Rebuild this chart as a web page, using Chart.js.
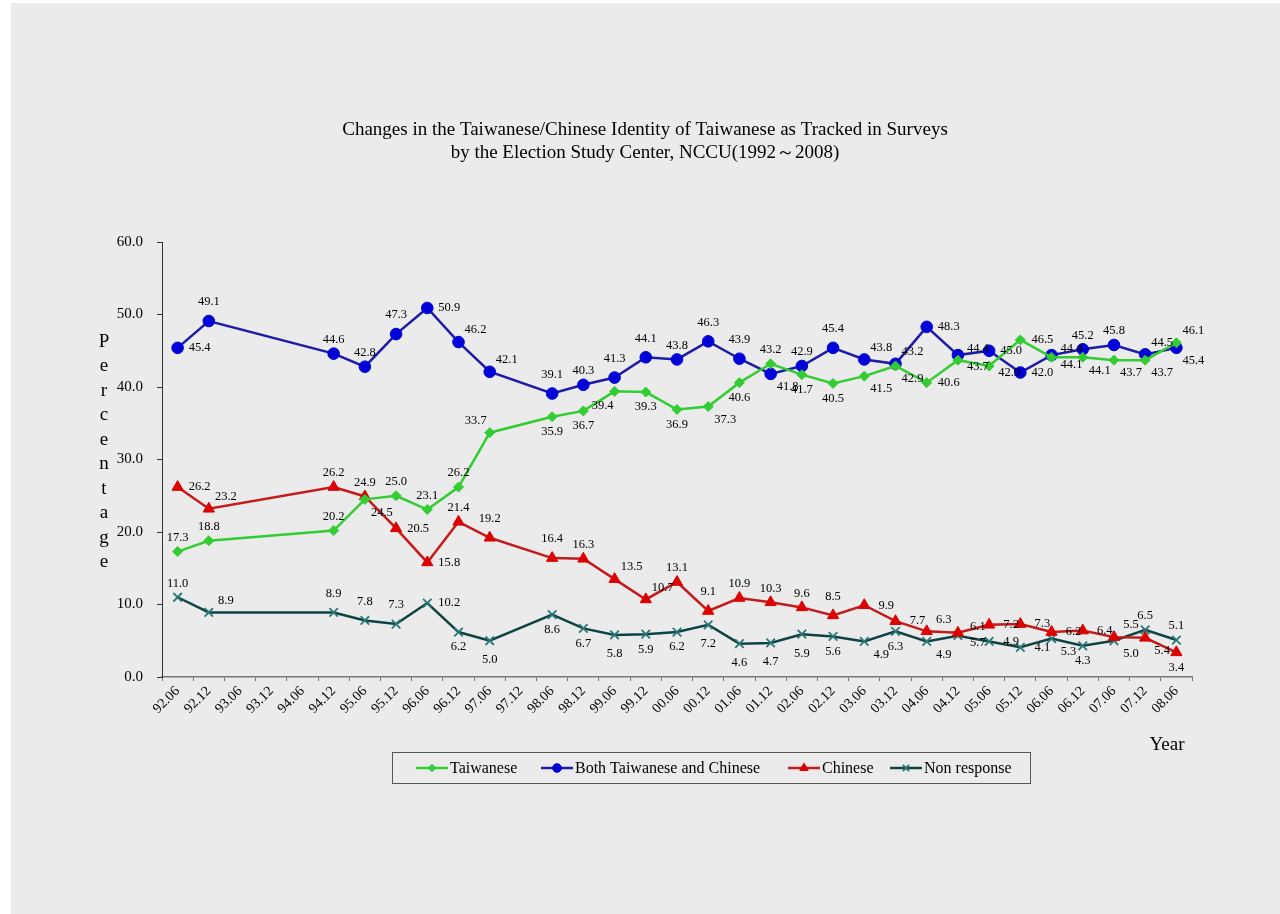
<!DOCTYPE html>
<html>
<head>
<meta charset="utf-8">
<script src="https://cdn.jsdelivr.net/npm/chart.js@4/dist/chart.umd.min.js"></script>
<style>
  html, body { margin: 0; padding: 0; background: #fff; }
  #wrap { width: 1280px; height: 914px; }
</style>
</head>
<body>
<div id="wrap"><canvas id="myChart" width="1280" height="914"></canvas></div>
<script>
// Survey waves (year.month)
const waves = ['92.06', '92.12', '93.06', '93.12', '94.06', '94.12', '95.06', '95.12', '96.06', '96.12',
  '97.06', '97.12', '98.06', '98.12', '99.06', '99.12', '00.06', '00.12', '01.06', '01.12',
  '02.06', '02.12', '03.06', '03.12', '04.06', '04.12', '05.06', '05.12', '06.06', '06.12',
  '07.06', '07.12', '08.06'];

// Percentages per wave (null = no survey that wave)
const taiwanese = [17.3, 18.8, null, null, null, 20.2, 24.5, 25.0, 23.1, 26.2, 33.7, null, 35.9, 36.7, 39.4, 39.3,
  36.9, 37.3, 40.6, 43.2, 41.7, 40.5, 41.5, 42.9, 40.6, 43.7, 42.9, 46.5, 44.1, 44.1, 43.7, 43.7, 46.1];
const bothTwCn = [45.4, 49.1, null, null, null, 44.6, 42.8, 47.3, 50.9, 46.2, 42.1, null, 39.1, 40.3, 41.3, 44.1,
  43.8, 46.3, 43.9, 41.8, 42.9, 45.4, 43.8, 43.2, 48.3, 44.4, 45.0, 42.0, 44.4, 45.2, 45.8, 44.5, 45.4];
const chinese = [26.2, 23.2, null, null, null, 26.2, 24.9, 20.5, 15.8, 21.4, 19.2, null, 16.4, 16.3, 13.5, 10.7,
  13.1, 9.1, 10.9, 10.3, 9.6, 8.5, 9.9, 7.7, 6.3, 6.1, 7.2, 7.3, 6.2, 6.4, 5.5, 5.4, 3.4];
const nonResponse = [11.0, 8.9, null, null, null, 8.9, 7.8, 7.3, 10.2, 6.2, 5.0, null, 8.6, 6.7, 5.8, 5.9,
  6.2, 7.2, 4.6, 4.7, 5.9, 5.6, 4.9, 6.3, 4.9, 5.7, 4.9, 4.1, 5.3, 4.3, 5.0, 6.5, 5.1];

const yTicks = [0, 10, 20, 30, 40, 50, 60];

// where each value label sits relative to its point
const labelPos = [
  ['a', 'a', '', '', '', 'a', 'br', 'a', 'a', 'a', 'al', '', 'b', 'b', 'bl', 'b',
   'b', 'br', 'b', 'a', 'b', 'b', 'br', 'br', 'r', 'rD', 'rD', 'r', 'rD', 'br', 'br', 'br', 'ar'],
  ['r', 'A', '', '', '', 'a', 'a', 'A', 'r', 'ar', 'ar', '', 'A', 'a', 'A', 'A',
   'a', 'A', 'A', 'br', 'a', 'A', 'ar', 'ar', 'r', 'rU', 'r', 'r', 'rU', 'a', 'a', 'ar', 'br'],
  ['r', 'ar', '', '', '', 'a', 'a', 'r', 'r', 'a', 'A', '', 'A', 'a', 'ar', 'ar',
   'a', 'A', 'a', 'a', 'a', 'A', 'r', 'r', 'ar', 'rU', 'r', 'r', 'r', 'r', 'ar', 'br', 'b'],
  ['a', 'ar', '', '', '', 'A', 'A', 'A', 'r', 'b', 'B', '', 'b', 'b', 'B', 'b',
   'b', 'B', 'B', 'B', 'B', 'b', 'br', 'b', 'br', 'rD', 'r', 'r', 'br', 'b', 'br', 'a', 'a']
];
const offsets = {
  a: [0, -14], A: [0, -19], b: [0, 15], B: [0, 19], r: [22, 0], l: [-22, 0],
  rU: [20, -6], rD: [20, 7],
  ar: [17, -12], al: [-14, -12], br: [17, 13], bl: [-12, 14]
};

const serif = '"Liberation Serif", "Times New Roman", serif';

const backdrop = {
  id: 'backdrop',
  beforeDraw(chart) {
    const c = chart.ctx;
    c.save();
    c.fillStyle = '#ffffff';
    c.fillRect(0, 0, chart.width, chart.height);
    c.fillStyle = '#ebebeb';
    c.fillRect(11, 3, chart.width - 11, chart.height - 3);
    c.restore();
  }
};

const valueLabels = {
  id: 'valueLabels',
  afterDatasetsDraw(chart) {
    const c = chart.ctx;
    c.save();
    c.font = '12.5px ' + serif;
    c.fillStyle = '#000';
    c.textAlign = 'center';
    c.textBaseline = 'middle';
    chart.data.datasets.forEach((ds, d) => {
      const meta = chart.getDatasetMeta(d);
      meta.data.forEach((pt, i) => {
        const v = ds.data[i];
        if (v === null) return;
        const off = offsets[labelPos[d][i]] || offsets.a;
        c.fillText(v.toFixed(1), pt.x + off[0], pt.y + off[1]);
      });
    });
    c.restore();
  }
};

const decorations = {
  id: 'decorations',
  afterDraw(chart) {
    const c = chart.ctx;
    c.save();
    c.fillStyle = '#000';
    c.textAlign = 'center';
    c.textBaseline = 'middle';
    c.font = '19px ' + serif;
    c.fillText('Changes in the Taiwanese/Chinese Identity of Taiwanese as Tracked in Surveys', 645, 130);
    c.fillText('by the Election Study Center, NCCU(1992\uFF5E2008)', 645, 153);

    // vertical axis title, letter by letter
    c.font = '19px ' + serif;
    'Percentage'.split('').forEach((ch, k) => c.fillText(ch, 104, 342 + k * 24.5));

    c.fillText('Year', 1167, 745);

    // legend box
    c.strokeStyle = '#555';
    c.lineWidth = 1;
    c.strokeRect(392.5, 752.5, 638, 31);
    c.font = '16px ' + serif;
    c.textAlign = 'left';
    const starts = [416, 541, 788, 890];
    chart.data.datasets.forEach((ds, d) => {
      const x0 = starts[d], y = 768;
      c.strokeStyle = ds.borderColor;
      c.lineWidth = 2.5;
      c.beginPath();
      c.moveTo(x0, y);
      c.lineTo(x0 + 32, y);
      c.stroke();
      c.fillStyle = ds.pointBackgroundColor;
      c.strokeStyle = ds.pointBorderColor;
      c.lineWidth = ds.pointBorderWidth;
      Chart.helpers.drawPoint(c, {
        pointStyle: ds.pointStyle, radius: ds.pointRadius * 0.75,
        borderWidth: ds.pointBorderWidth, rotation: 0
      }, x0 + 16, y);
      c.fillStyle = '#000';
      c.fillText(ds.label, x0 + 34, y + 1);
    });
    c.restore();
  }
};

const ctx = document.getElementById('myChart').getContext('2d');

const myChart = new Chart(ctx, {
  type: 'line',
  data: {
    labels: waves,
    datasets: [
      {
        label: 'Taiwanese',
        data: taiwanese,
        borderColor: '#33cc33',
        borderWidth: 2.5,
        pointStyle: 'rectRot',
        pointRadius: 5,
        pointBackgroundColor: '#33cc33',
        pointBorderColor: '#33cc33',
        pointBorderWidth: 1,
        spanGaps: true
      },
      {
        label: 'Both Taiwanese and Chinese',
        data: bothTwCn,
        borderColor: '#1c1ca6',
        borderWidth: 2.5,
        pointStyle: 'circle',
        pointRadius: 5.8,
        pointBackgroundColor: '#0000d8',
        pointBorderColor: '#0000d8',
        pointBorderWidth: 1,
        spanGaps: true
      },
      {
        label: 'Chinese',
        data: chinese,
        borderColor: '#c41a1a',
        borderWidth: 2.5,
        pointStyle: 'triangle',
        pointRadius: 6.5,
        pointBackgroundColor: '#dd0000',
        pointBorderColor: '#dd0000',
        pointBorderWidth: 1,
        spanGaps: true
      },
      {
        label: 'Non response',
        data: nonResponse,
        borderColor: '#0f4242',
        borderWidth: 2.5,
        pointStyle: 'crossRot',
        pointRadius: 6,
        pointBackgroundColor: '#2a7878',
        pointBorderColor: '#2a7878',
        pointBorderWidth: 1.8,
        spanGaps: true
      }
    ]
  },
  options: {
    responsive: false,
    animation: false,
    layout: { padding: { top: 242, right: 88, bottom: 177, left: 0 } },
    plugins: {
      legend: { display: false },
      title: { display: false },
      tooltip: { enabled: false }
    },
    scales: {
      x: {
        type: 'category',
        offset: true,
        grid: { offset: true, drawOnChartArea: false, tickLength: 4, color: '#777' },
        border: { color: '#777', width: 1.5 },
        ticks: {
          autoSkip: false, maxRotation: 45, minRotation: 45, padding: 2,
          color: '#000', font: { family: serif, size: 14 }
        },
        afterFit(scale) { scale.height = 60; }
      },
      y: {
        min: 0,
        max: 60,
        afterBuildTicks(scale) { scale.ticks = yTicks.map(v => ({ value: v })); },
        grid: { drawOnChartArea: false, tickLength: 5, color: '#333' },
        border: { color: '#333', width: 1 },
        ticks: {
          padding: 14, color: '#000', font: { family: serif, size: 15 },
          callback: v => v.toFixed(1)
        },
        afterFit(scale) { scale.width = 162; }
      }
    }
  },
  plugins: [backdrop, valueLabels, decorations]
});
</script>
</body>
</html>
